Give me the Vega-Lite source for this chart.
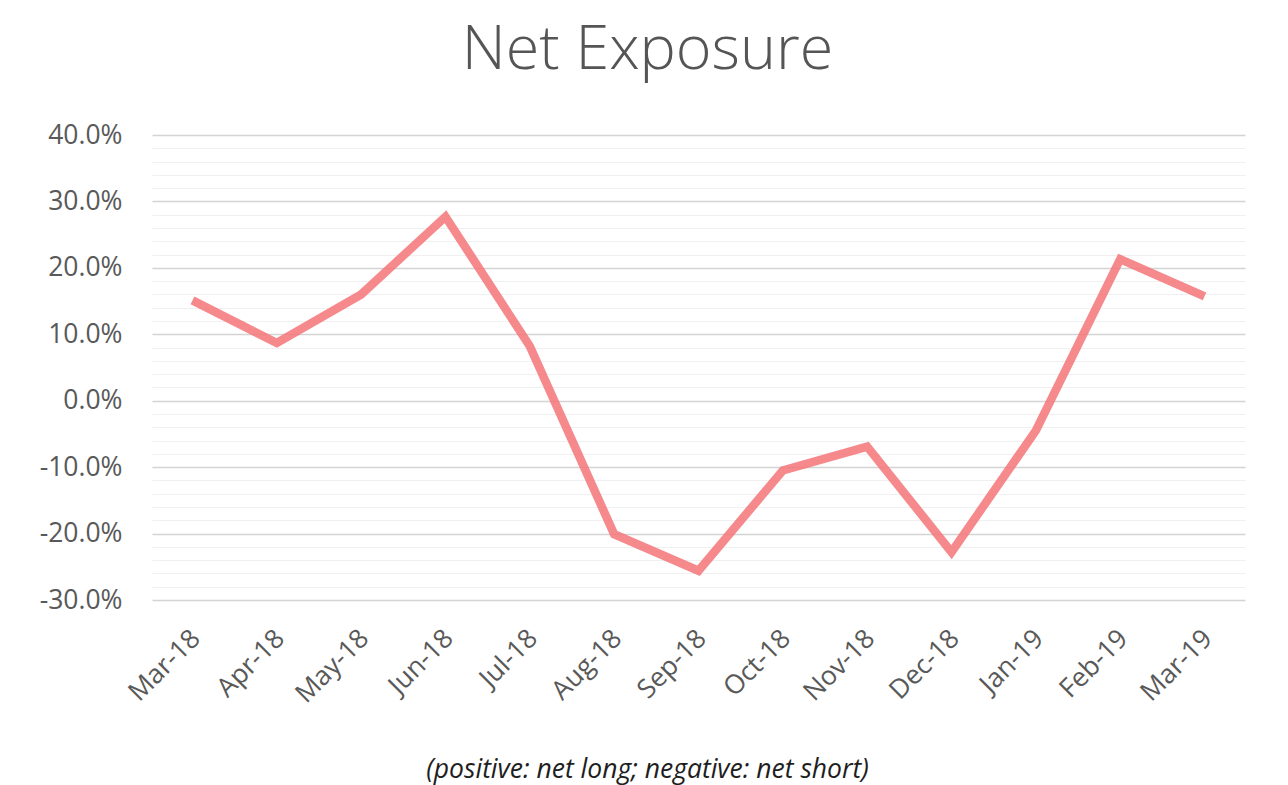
{
  "$schema": "https://vega.github.io/schema/vega-lite/v6.json",
  "width": 1093,
  "height": 465,
  "autosize": {"type": "none"},
  "padding": {"left": 152, "top": 135, "right": 43, "bottom": 185},
  "background": "white",
  "title": {
    "text": "Net Exposure",
    "frame": "group",
    "anchor": "middle",
    "baseline": "alphabetic",
    "offset": -8,
    "dx": -51,
    "font": "Open Sans",
    "fontSize": 61,
    "fontWeight": 300,
    "color": "#555555"
  },
  "data": {
    "values": [
      {"month": "Mar-18", "exposure": 0.151},
      {"month": "Apr-18", "exposure": 0.087},
      {"month": "May-18", "exposure": 0.160},
      {"month": "Jun-18", "exposure": 0.277},
      {"month": "Jul-18", "exposure": 0.082},
      {"month": "Aug-18", "exposure": -0.201},
      {"month": "Sep-18", "exposure": -0.256},
      {"month": "Oct-18", "exposure": -0.105},
      {"month": "Nov-18", "exposure": -0.069},
      {"month": "Dec-18", "exposure": -0.228},
      {"month": "Jan-19", "exposure": -0.045},
      {"month": "Feb-19", "exposure": 0.213},
      {"month": "Mar-19", "exposure": 0.157}
    ]
  },
  "mark": {
    "type": "line",
    "color": "#F37478",
    "opacity": 0.85,
    "strokeWidth": 8.5,
    "strokeJoin": "miter",
    "strokeCap": "butt"
  },
  "encoding": {
    "x": {
      "field": "month",
      "type": "ordinal",
      "sort": null,
      "scale": {"type": "point", "padding": 0.48},
      "axis": {
        "title": "(positive: net long; negative: net short)",
        "titleFont": "Open Sans",
        "titleFontSize": 26.5,
        "titleFontStyle": "italic",
        "titleFontWeight": "normal",
        "titleColor": "#1e1e1e",
        "titleX": 495,
        "titleY": 177,
        "titleAlign": "center",
        "titleBaseline": "alphabetic",
        "labelAngle": -45,
        "labelAlign": "right",
        "labelBaseline": "middle",
        "labelPadding": 34,
        "labelOffset": 3,
        "labelFont": "Open Sans",
        "labelFontSize": 26.5,
        "labelColor": "#595959",
        "ticks": false,
        "domain": false,
        "grid": false
      }
    },
    "y": {
      "field": "exposure",
      "type": "quantitative",
      "scale": {"domain": [-0.3, 0.4], "nice": false, "zero": false},
      "axis": {
        "title": null,
        "format": ".1%",
        "values": [-0.3, -0.28, -0.26, -0.24, -0.22, -0.2, -0.18, -0.16, -0.14, -0.12, -0.1, -0.08, -0.06, -0.04, -0.02, 0, 0.02, 0.04, 0.06, 0.08, 0.1, 0.12, 0.14, 0.16, 0.18, 0.2, 0.22, 0.24, 0.26, 0.28, 0.3, 0.32, 0.34, 0.36, 0.38, 0.4],
        "labelExpr": "abs(round(datum.value * 100)) % 10 == 0 ? datum.label : ''",
        "labelOverlap": false,
        "labelFont": "Open Sans",
        "labelFontSize": 26.5,
        "labelColor": "#595959",
        "labelPadding": 30,
        "ticks": false,
        "domain": false,
        "grid": true,
        "gridColor": {
          "condition": {"test": "abs(round(datum.value * 100)) % 10 == 0", "value": "#d4d4d4"},
          "value": "#f0f0f0"
        },
        "gridWidth": {
          "condition": {"test": "abs(round(datum.value * 100)) % 10 == 0", "value": 1.4},
          "value": 1.2
        }
      }
    }
  },
  "config": {
    "view": {"stroke": null},
    "locale": {
      "number": {
        "decimal": ".",
        "thousands": ",",
        "grouping": [3],
        "currency": ["$", ""],
        "minus": "-"
      }
    }
  }
}
